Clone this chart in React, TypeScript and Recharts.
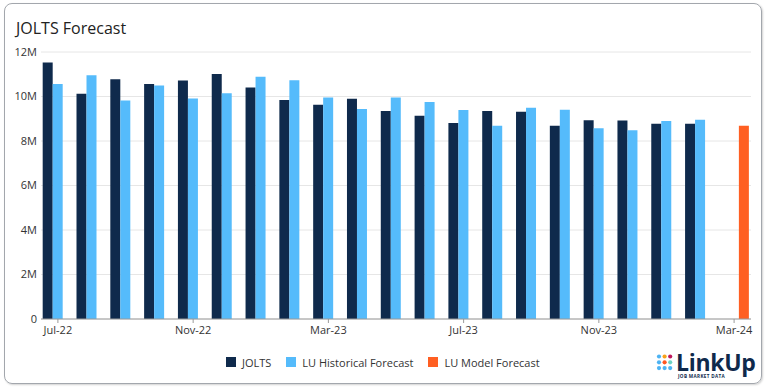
import React from "react";
import { BarChart, Bar, XAxis, YAxis, CartesianGrid } from "recharts";

const months = [
  "Jul-22", "Aug-22", "Sep-22", "Oct-22", "Nov-22", "Dec-22",
  "Jan-23", "Feb-23", "Mar-23", "Apr-23", "May-23", "Jun-23",
  "Jul-23", "Aug-23", "Sep-23", "Oct-23", "Nov-23", "Dec-23",
  "Jan-24", "Feb-24", "Mar-24",
];

// values in millions
const jolts: (number | null)[] = [
  11.53, 10.12, 10.78, 10.56, 10.72, 11.01, 10.41, 9.84, 9.63, 9.9,
  9.35, 9.14, 8.81, 9.35, 9.31, 8.69, 8.93, 8.92, 8.77, 8.77, null,
];
const luHistorical: (number | null)[] = [
  10.56, 10.96, 9.82, 10.5, 9.91, 10.15, 10.89, 10.73, 9.95, 9.44,
  9.95, 9.75, 9.39, 8.69, 9.5, 9.4, 8.57, 8.48, 8.9, 8.96, null,
];
const luModel: (number | null)[] = [
  null, null, null, null, null, null, null, null, null, null,
  null, null, null, null, null, null, null, null, null, null, 8.69,
];
const yTicks = [0, 2, 4, 6, 8, 10, 12];

const seriesNames = ["JOLTS", "LU Historical Forecast", "LU Model Forecast"];
const colors = ["#0f2a4c", "#55bbfb", "#ff5f22"];

const data = months.map((m, i) => ({
  month: m,
  jolts: jolts[i],
  luHistorical: luHistorical[i],
  luModel: luModel[i],
}));

const FONT = "'Open Sans', 'Noto Sans', sans-serif";

const dotColors = [
  ["#4db3f3", "#f7a21b", "#c0185c"],
  ["#4db3f3", "#ff5722", "#6dd3c4"],
  ["#4db3f3", "#4db3f3", "#4db3f3"],
];

export default function App() {
  return (
    <div
      style={{
        position: "fixed",
        left: 0,
        top: 0,
        width: 768,
        height: 388,
        background: "#fff",
        fontFamily: FONT,
        overflow: "hidden",
      }}
    >
      <div
        style={{
          position: "absolute",
          left: 3.5,
          top: 2.5,
          width: 758,
          height: 381,
          border: "1px solid #a3a7ad",
          borderRadius: 8,
          boxSizing: "border-box",
          boxShadow: "1px 1px 2px rgba(0,0,0,0.18)",
        }}
      />
      <div
        style={{
          position: "absolute",
          left: 16,
          top: 17,
          fontSize: 16,
          color: "#222",
          whiteSpace: "nowrap",
        }}
      >
        JOLTS Forecast
      </div>
      <div style={{ position: "absolute", left: 0, top: 0 }}>
        <BarChart
          width={768}
          height={345}
          data={data}
          margin={{ top: 52, right: 17, bottom: 1, left: 0 }}
          barCategoryGap="5%"
          barGap={0}
        >
          <CartesianGrid vertical={false} stroke="#e6e6e6" />
          <XAxis
            dataKey="month"
            interval={3}
            height={25}
            tickSize={4}
            tickMargin={3}
            stroke="#9a9a9a"
            tick={{ fontSize: 11, fill: "#333", fontFamily: FONT }}
          />
          <YAxis
            width={41}
            domain={[0, 12]}
            ticks={yTicks}
            axisLine={false}
            tickLine={false}
            tickSize={2}
            tickMargin={2}
            tickFormatter={(v: number) => (v === 0 ? "0" : `${v}M`)}
            tick={{ fontSize: 11, fill: "#333", fontFamily: FONT }}
          />
          <Bar dataKey="jolts" name={seriesNames[0]} fill={colors[0]} isAnimationActive={false} />
          <Bar dataKey="luHistorical" name={seriesNames[1]} fill={colors[1]} isAnimationActive={false} />
          <Bar dataKey="luModel" name={seriesNames[2]} fill={colors[2]} isAnimationActive={false} />
        </BarChart>
      </div>
      <div
        style={{
          position: "absolute",
          left: 226,
          top: 354.5,
          display: "flex",
          alignItems: "center",
          fontSize: 11,
          color: "#333",
          whiteSpace: "nowrap",
        }}
      >
        {seriesNames.map((n, i) => (
          <div key={n} style={{ display: "flex", alignItems: "center", marginRight: 15 }}>
            <div style={{ width: 10, height: 10.5, background: colors[i], marginRight: 6 }} />
            <span>{n}</span>
          </div>
        ))}
      </div>
      <svg
        style={{ position: "absolute", left: 650, top: 348 }}
        width={115}
        height={36}
      >
        {dotColors.map((row, r) =>
          row.map((c, k) => (
            <circle key={`${r}-${k}`} cx={9 + k * 5.6} cy={8.5 + r * 5.8} r={2.1} fill={c} />
          ))
        )}
        <text
          x={26}
          y={22.5}
          fontFamily={FONT}
          fontWeight={700}
          fontSize={23}
          fill="#0f2a4c"
          letterSpacing={-0.3}
        >
          LinkUp
        </text>
        <text
          x={28}
          y={30}
          fontFamily={FONT}
          fontWeight={700}
          fontSize={4.6}
          fill="#0f2a4c"
          letterSpacing={0.35}
        >
          JOB MARKET DATA
        </text>
      </svg>
    </div>
  );
}
